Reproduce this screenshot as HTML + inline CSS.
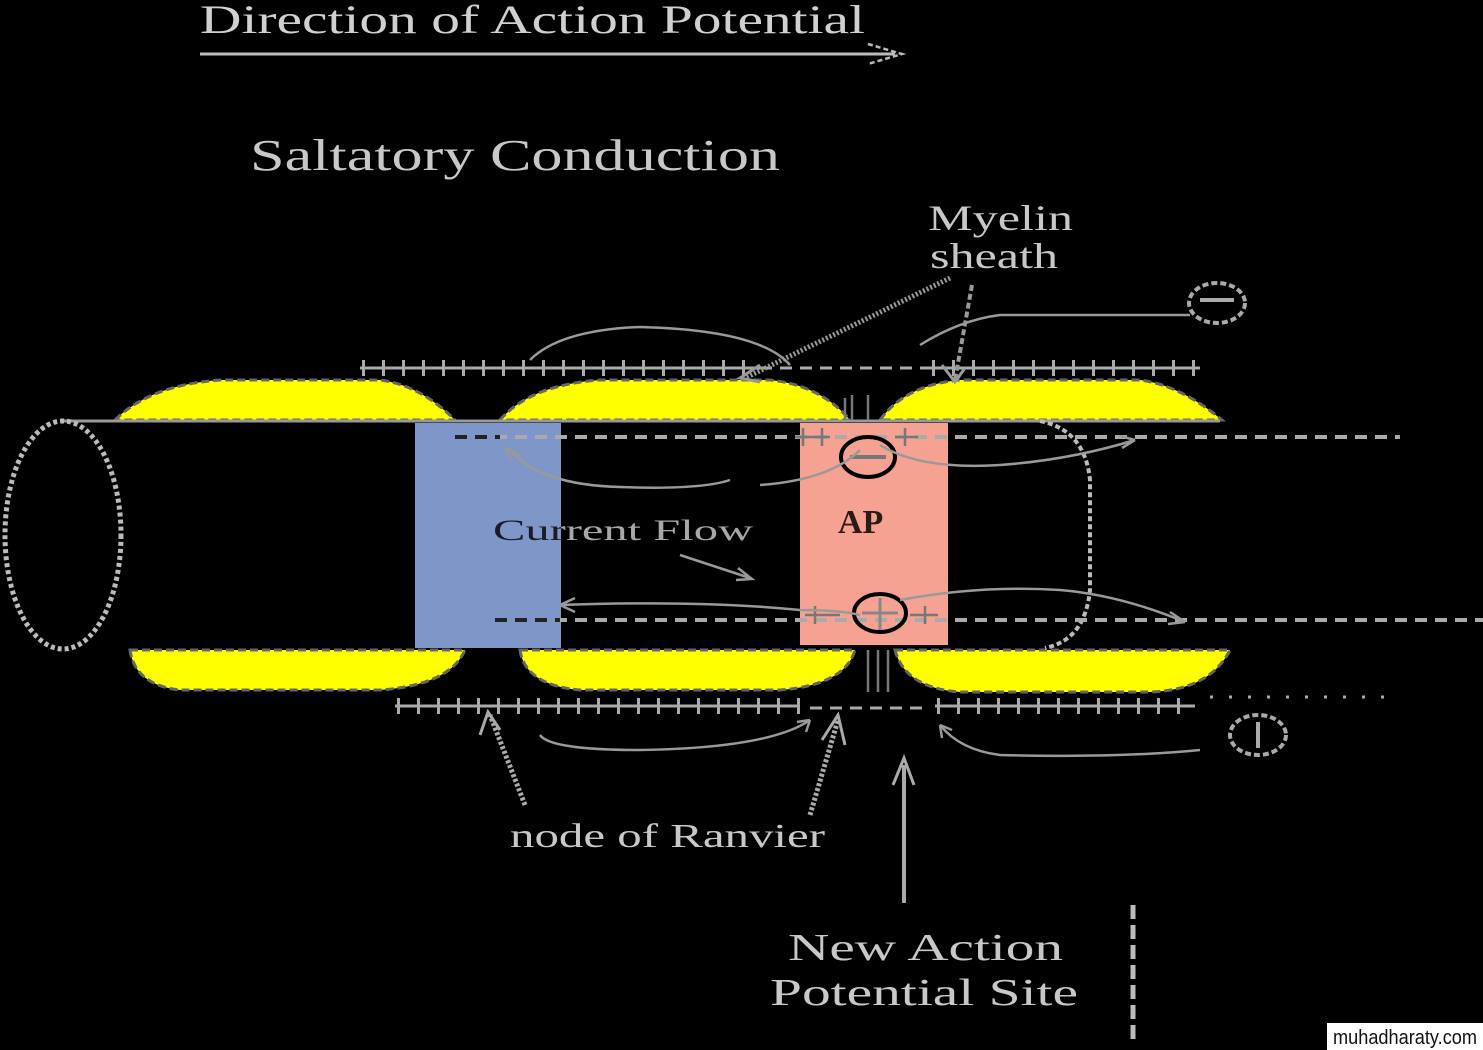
<!DOCTYPE html>
<html><head><meta charset="utf-8"><style>
html,body{margin:0;padding:0;background:#000;width:1483px;height:1050px;overflow:hidden}
svg{display:block}
text{font-family:"Liberation Serif",serif}
</style></head><body>
<svg width="1483" height="1050" viewBox="0 0 1483 1050" xmlns="http://www.w3.org/2000/svg">
<defs>
<clipPath id="cb"><rect x="415" y="423" width="146" height="225"/></clipPath>
<clipPath id="ck"><rect x="561" y="423" width="300" height="225"/></clipPath>
</defs>
<rect width="1483" height="1050" fill="#000"/>
<text x="200" y="33" font-size="40" fill="#d0d0d0" textLength="665" lengthAdjust="spacingAndGlyphs">Direction of Action Potential</text>
<line x1="200" y1="54" x2="895" y2="54" stroke="#bbb" stroke-width="3"/>
<path d="M868 44 L902 54 L868 64" fill="none" stroke="#bbb" stroke-width="2.5" stroke-dasharray="5 3"/>
<text x="250" y="170" font-size="44" fill="#c8c8c8" textLength="530" lengthAdjust="spacingAndGlyphs">Saltatory Conduction</text>
<text x="928" y="230" font-size="36" fill="#c8c8c8" textLength="145" lengthAdjust="spacingAndGlyphs">Myelin</text>
<text x="930" y="268" font-size="36" fill="#c8c8c8" textLength="128" lengthAdjust="spacingAndGlyphs">sheath</text>

<g fill="#ffff00" stroke="#666" stroke-width="3" stroke-dasharray="8 4">
<path d="M115 420 Q150 385 220 380 L380 380 Q420 385 455 420 Z"/>
<path d="M500 420 Q530 385 600 380 L770 380 Q820 385 850 420 Z"/>
<path d="M880 420 Q905 385 960 380 L1140 380 Q1180 385 1222 420 Z"/>
<path d="M130 650 L465 650 Q450 685 380 690 L180 690 Q135 685 130 650 Z"/>
<path d="M520 650 L855 650 Q845 685 780 690 L580 690 Q525 685 520 650 Z"/>
<path d="M895 650 L1230 650 Q1210 690 1150 692 L960 692 Q905 688 895 650 Z"/>
</g>
<line x1="60" y1="421" x2="1220" y2="421" stroke="#999" stroke-width="3"/>
<rect x="415" y="423" width="146" height="225" fill="#7f96c8"/>
<rect x="800" y="423" width="148" height="222" fill="#f6a292"/>
<ellipse cx="63" cy="535" rx="58" ry="114" fill="none" stroke="#bbb" stroke-width="5" stroke-dasharray="4 3"/>
<path d="M1040 421 Q1085 430 1090 480 L1090 590 Q1085 640 1045 648" fill="none" stroke="#bbb" stroke-width="4" stroke-dasharray="5 3"/>
<line x1="455" y1="437" x2="1400" y2="437" stroke="#aaa" stroke-width="4" stroke-dasharray="12 8"/>
<line x1="455" y1="437" x2="500" y2="437" stroke="#222" stroke-width="4" stroke-dasharray="12 8"/>
<line x1="495" y1="620" x2="1483" y2="620" stroke="#aaa" stroke-width="4" stroke-dasharray="12 8"/>
<line x1="495" y1="620" x2="560" y2="620" stroke="#222" stroke-width="4" stroke-dasharray="12 8"/>
<line x1="360" y1="368" x2="760" y2="368" stroke="#aaa" stroke-width="3"/>
<line x1="362" y1="368" x2="760" y2="368" stroke="#aaa" stroke-width="16" stroke-dasharray="3 17"/>
<line x1="760" y1="368" x2="930" y2="368" stroke="#aaa" stroke-width="3" stroke-dasharray="12 8"/>
<line x1="930" y1="368" x2="1200" y2="368" stroke="#aaa" stroke-width="3"/>
<line x1="932" y1="368" x2="1200" y2="368" stroke="#aaa" stroke-width="16" stroke-dasharray="3 17"/>
<line x1="395" y1="706" x2="800" y2="706" stroke="#aaa" stroke-width="3"/>
<line x1="397" y1="706" x2="800" y2="706" stroke="#aaa" stroke-width="16" stroke-dasharray="3 17"/>
<line x1="810" y1="708" x2="930" y2="708" stroke="#aaa" stroke-width="3" stroke-dasharray="12 8"/>
<line x1="935" y1="706" x2="1195" y2="706" stroke="#aaa" stroke-width="3"/>
<line x1="937" y1="706" x2="1195" y2="706" stroke="#aaa" stroke-width="16" stroke-dasharray="3 17"/>
<line x1="1210" y1="697" x2="1385" y2="697" stroke="#aaa" stroke-width="3" stroke-dasharray="3 16"/>
<g stroke="#777" stroke-width="2.5">
<line x1="795" y1="437" x2="830" y2="437"/><line x1="803" y1="428" x2="803" y2="446"/><line x1="822" y1="428" x2="822" y2="446"/>
<line x1="895" y1="437" x2="918" y2="437"/><line x1="905" y1="428" x2="905" y2="446"/>
<line x1="845" y1="398" x2="845" y2="420"/><line x1="852" y1="395" x2="852" y2="420"/><line x1="868" y1="395" x2="868" y2="420"/>
<line x1="805" y1="615" x2="840" y2="615"/><line x1="815" y1="606" x2="815" y2="624"/>
<line x1="910" y1="615" x2="938" y2="615"/><line x1="925" y1="606" x2="925" y2="624"/>
<line x1="868" y1="650" x2="868" y2="692"/><line x1="878" y1="650" x2="878" y2="692"/><line x1="888" y1="650" x2="888" y2="692"/>
</g>
<ellipse cx="868" cy="457" rx="27" ry="20" fill="none" stroke="#000" stroke-width="4"/>
<line x1="850" y1="457" x2="886" y2="457" stroke="#777" stroke-width="4"/>
<ellipse cx="880" cy="613" rx="26" ry="19" fill="none" stroke="#000" stroke-width="4"/>
<line x1="862" y1="613" x2="898" y2="613" stroke="#888" stroke-width="3"/>
<line x1="880" y1="598" x2="880" y2="630" stroke="#888" stroke-width="3"/>
<text clip-path="url(#cb)" x="493" y="540" font-size="30" fill="#1a1a2a" textLength="260" lengthAdjust="spacingAndGlyphs">Current Flow</text>
<text clip-path="url(#ck)" x="493" y="540" font-size="30" fill="#a8a8a8" textLength="260" lengthAdjust="spacingAndGlyphs">Current Flow</text>
<text x="838" y="533" font-size="34" font-weight="bold" fill="#2a1a18">AP</text>
<g fill="none" stroke="#999" stroke-width="2.5">
<path d="M730 480 Q700 490 620 487 Q540 485 510 450"/>
<path d="M505 448 L512 462 M505 448 L520 455"/>
<path d="M680 555 L750 578"/><path d="M738 568 L752 579 L736 580"/>
<path d="M860 450 Q830 480 760 485"/>
<path d="M560 605 Q700 600 800 610 Q840 610 860 615"/>
<path d="M560 605 L575 598 M560 605 L575 612"/>
<path d="M900 600 Q980 585 1060 590 Q1120 595 1185 622"/>
<path d="M1185 622 L1170 612 M1185 622 L1168 624"/>
<path d="M880 445 Q920 470 1000 465 Q1070 460 1135 440"/>
<path d="M1135 440 L1120 436 M1135 440 L1122 448"/>
<path d="M530 360 Q560 330 640 327 Q760 330 790 365"/>
<path d="M920 345 Q960 320 1000 315 L1190 315"/>
<path d="M540 735 Q550 750 640 750 Q770 748 810 720"/>
<path d="M810 720 L797 722 M810 720 L806 732"/>
<path d="M1200 750 Q1120 758 1000 755 Q960 750 940 725"/>
<path d="M940 725 L942 738 M940 725 L952 730"/>
</g>
<line x1="950" y1="278" x2="745" y2="378" stroke="#999" stroke-width="5" stroke-dasharray="2 2"/>
<path d="M760 365 L740 378 L760 382" fill="none" stroke="#999" stroke-width="3"/>
<line x1="972" y1="285" x2="955" y2="380" stroke="#999" stroke-width="4" stroke-dasharray="6 3"/>
<path d="M942 365 L955 382 L965 368" fill="none" stroke="#999" stroke-width="3"/>
<ellipse cx="1217" cy="303" rx="28" ry="20" fill="none" stroke="#aaa" stroke-width="4" stroke-dasharray="6 3"/>
<line x1="1200" y1="300" x2="1234" y2="300" stroke="#aaa" stroke-width="4"/>
<ellipse cx="1258" cy="735" rx="28" ry="20" fill="none" stroke="#aaa" stroke-width="4" stroke-dasharray="6 3"/>
<line x1="1258" y1="722" x2="1258" y2="748" stroke="#aaa" stroke-width="4"/>
<line x1="525" y1="805" x2="490" y2="715" stroke="#aaa" stroke-width="5" stroke-dasharray="3 2"/>
<path d="M480 735 L488 712 L500 730" fill="none" stroke="#aaa" stroke-width="3"/>
<line x1="810" y1="815" x2="838" y2="720" stroke="#aaa" stroke-width="5" stroke-dasharray="3 2"/>
<path d="M822 740 L838 715 L845 745" fill="none" stroke="#aaa" stroke-width="3"/>
<text x="510" y="847" font-size="34" fill="#c8c8c8" textLength="315" lengthAdjust="spacingAndGlyphs">node of Ranvier</text>
<line x1="904" y1="765" x2="904" y2="903" stroke="#aaa" stroke-width="4"/>
<path d="M893 785 L904 758 L914 785" fill="none" stroke="#aaa" stroke-width="3"/>
<text x="788" y="960" font-size="38" fill="#c8c8c8" textLength="275" lengthAdjust="spacingAndGlyphs">New Action</text>
<text x="770" y="1005" font-size="38" fill="#c8c8c8" textLength="308" lengthAdjust="spacingAndGlyphs">Potential  Site</text>
<line x1="1133" y1="905" x2="1133" y2="1045" stroke="#bbb" stroke-width="5" stroke-dasharray="14 6"/>
<rect x="1327" y="1023" width="156" height="27" fill="#fff"/>
<text x="1333" y="1044" font-size="20" fill="#111" style="font-family:'Liberation Sans',sans-serif" textLength="144" lengthAdjust="spacingAndGlyphs">muhadharaty.com</text>
</svg>
</body></html>
